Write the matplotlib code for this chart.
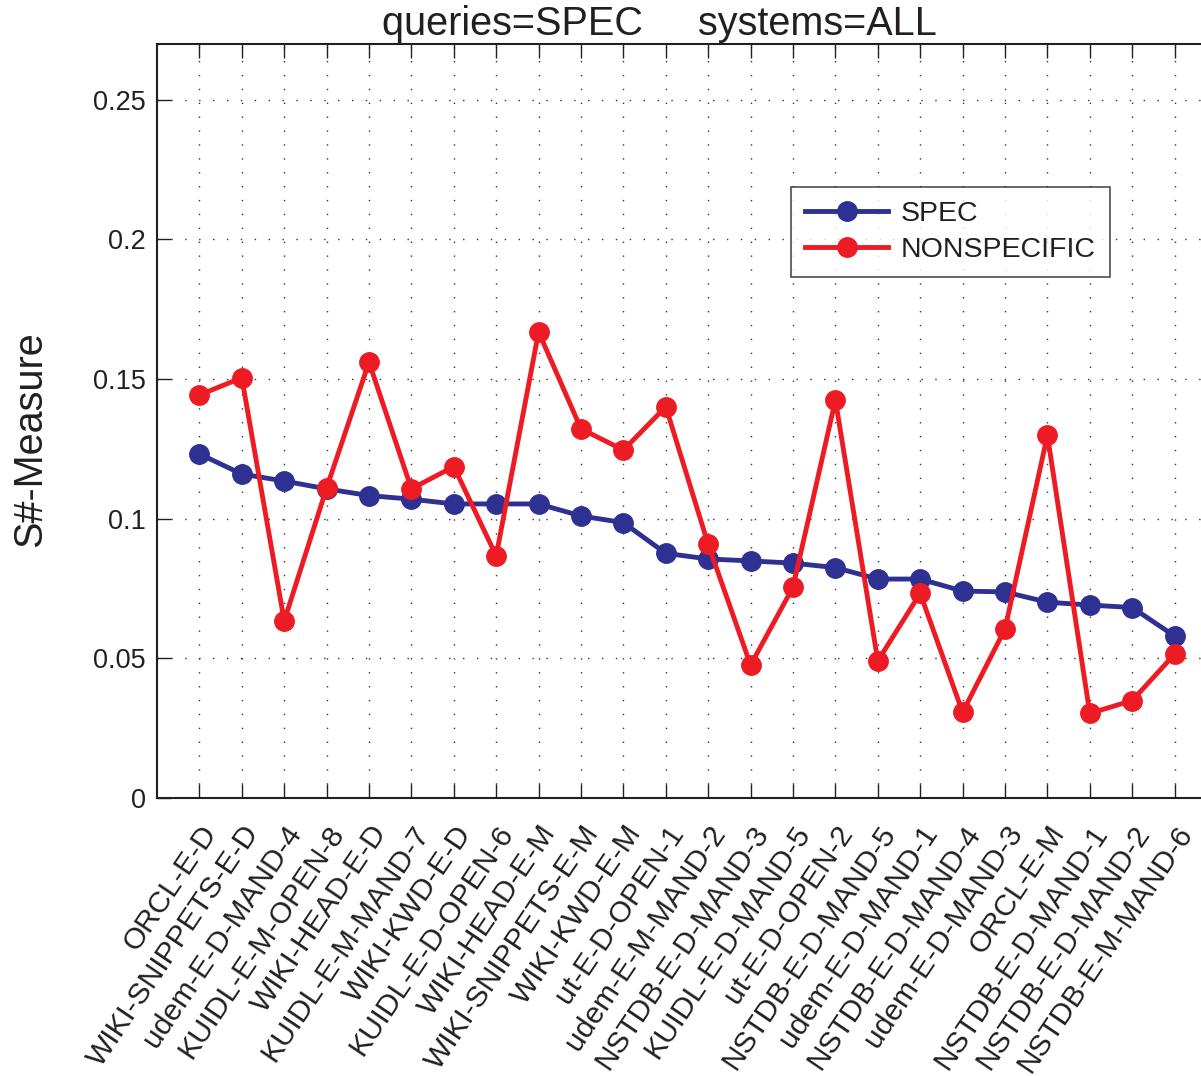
import matplotlib
matplotlib.use("Agg")
import matplotlib.pyplot as plt
import numpy as np

plt.rcParams["font.family"] = ["Liberation Sans", "DejaVu Sans"]

TEXT = "#231f20"
BLUE = "#2e3192"
RED = "#ed1c24"

systems = [
    "ORCL-E-D", "WIKI-SNIPPETS-E-D", "udem-E-D-MAND-4", "KUIDL-E-M-OPEN-8",
    "WIKI-HEAD-E-D", "KUIDL-E-M-MAND-7", "WIKI-KWD-E-D", "KUIDL-E-D-OPEN-6",
    "WIKI-HEAD-E-M", "WIKI-SNIPPETS-E-M", "WIKI-KWD-E-M", "ut-E-D-OPEN-1",
    "udem-E-M-MAND-2", "NSTDB-E-D-MAND-3", "KUIDL-E-D-MAND-5", "ut-E-D-OPEN-2",
    "NSTDB-E-D-MAND-5", "udem-E-D-MAND-1", "NSTDB-E-D-MAND-4", "udem-E-D-MAND-3",
    "ORCL-E-M", "NSTDB-E-D-MAND-1", "NSTDB-E-D-MAND-2", "NSTDB-E-M-MAND-6",
]
spec = [0.1232, 0.1160, 0.1135, 0.1107, 0.1083, 0.1070, 0.1053, 0.1053,
        0.1053, 0.1010, 0.0986, 0.0876, 0.0856, 0.0849, 0.0841, 0.0825,
        0.0784, 0.0784, 0.0741, 0.0738, 0.0701, 0.0691, 0.0682, 0.0580]
nonspec = [0.1443, 0.1505, 0.0634, 0.1110, 0.1561, 0.1107, 0.1187, 0.0867,
           0.1669, 0.1322, 0.1246, 0.1401, 0.0908, 0.0476, 0.0755, 0.1425,
           0.0491, 0.0733, 0.0307, 0.0605, 0.1299, 0.0303, 0.0349, 0.0515]
yticks = [0, 0.05, 0.1, 0.15, 0.2, 0.25]
ytick_labels = ["0", "0.05", "0.1", "0.15", "0.2", "0.25"]

W, H = 1201, 1076
fig = plt.figure(figsize=(W / 100, H / 100), dpi=100)
# axes right edge runs past the figure (clipped, as in the reference)
ax = fig.add_axes([157 / W, (H - 798) / H, 1060 / W, 754 / H])

x = np.arange(1, len(systems) + 1)
ax.plot(x, spec, color=BLUE, lw=3.5, marker="o", ms=14, label="SPEC",
        clip_on=False, zorder=3)
ax.plot(x, nonspec, color=RED, lw=3.5, marker="o", ms=14, label="NONSPECIFIC",
        clip_on=False, zorder=4)

ax.set_xlim(0, 25)
ax.set_ylim(0, 0.27)
ax.set_xticks(x)
ax.set_xticklabels(systems, rotation=56, ha="right", rotation_mode="anchor",
                   fontsize=21.5, color=TEXT)
ax.set_yticks(yticks)
ax.set_yticklabels(ytick_labels, fontsize=19.5, color=TEXT)
ax.tick_params(direction="in", length=10, width=1.0, top=True, right=False,
               pad=8, colors=TEXT)
ax.tick_params(axis="x", pad=16)
ax.grid(True, linestyle=(0, (1, 9)), color="#333333", linewidth=1.0)
for s in ax.spines.values():
    s.set_linewidth(1.5)
    s.set_color(TEXT)

fig.text(30 / W, 1 - 439 / H, "S#-Measure", rotation=90, ha="center",
         va="center", fontsize=28.5, color=TEXT)
fig.text(659 / W, 1 - 24 / H, "queries=SPEC     systems=ALL", ha="center",
         va="center", fontsize=28.5, color=TEXT)

leg = ax.legend(loc="upper left", bbox_to_anchor=((791 - 157) / 1060, (798 - 187) / 754),
                fontsize=20.5, frameon=True, fancybox=False, edgecolor=TEXT,
                handlelength=2.9, borderpad=0.5, labelspacing=0.35,
                handletextpad=0.45, borderaxespad=0)
leg.get_frame().set_linewidth(1.2)
for t in leg.get_texts():
    t.set_color(TEXT)

fig.savefig("out.png", dpi=100)
